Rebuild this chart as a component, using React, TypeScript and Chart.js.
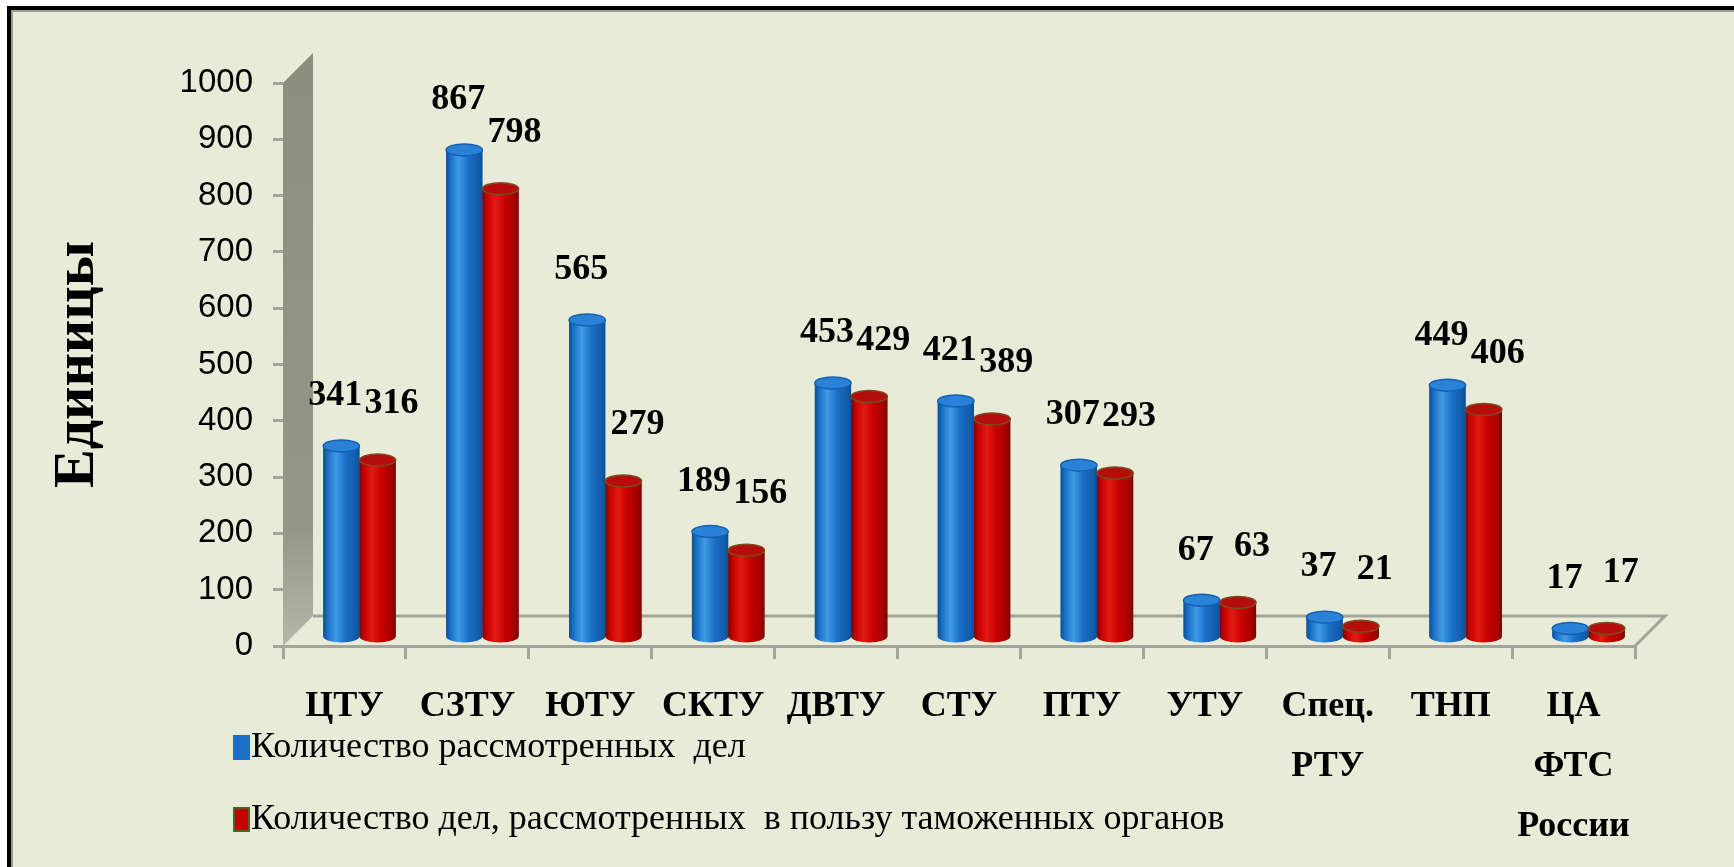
import React, { useEffect, useRef } from "react";
import { Chart, registerables } from "chart.js";

Chart.register(...registerables);

// ---------- data ----------
const categories: string[][] = [
  ["ЦТУ"],
  ["СЗТУ"],
  ["ЮТУ"],
  ["СКТУ"],
  ["ДВТУ"],
  ["СТУ"],
  ["ПТУ"],
  ["УТУ"],
  ["Спец.", "РТУ"],
  ["ТНП"],
  ["ЦА", "ФТС", "России"],
];
const reviewedCases = [341, 867, 565, 189, 453, 421, 307, 67, 37, 449, 17];
const casesInFavor = [316, 798, 279, 156, 429, 389, 293, 63, 21, 406, 17];
const seriesNames = [
  "Количество рассмотренных  дел",
  "Количество дел, рассмотренных  в пользу таможенных органов",
];
const yTickValues = [0, 100, 200, 300, 400, 500, 600, 700, 800, 900, 1000];
const yTitle = "Единицы";

// ---------- styling ----------
const BG = "#e8ebd8";
const AXIS_GRAY = "#a2a59a";
const DEPTH = 30; // 3D depth of wall / floor
const BAR_DX = 15; // bars stand at mid depth
const BAR_DY = 8;
const LABEL_DX = [-6, 14];
const LABEL_DY = [50, 56];

const palettes = [
  {
    solid: "#1a6fc6",
    edge: "#0b4f96",
    main: "#1a6fc6",
    light: "#3f9be6",
    dark: "#135ca9",
    top: "#2a82d8",
    rim: "#1560b0",
  },
  {
    solid: "#c40000",
    edge: "#6e0c06",
    main: "#c60000",
    light: "#e21a14",
    dark: "#a30000",
    top: "#b50c0c",
    rim: "#7d4a1c",
  },
];

function drawCylinder(
  ctx: CanvasRenderingContext2D,
  x: number,
  top: number,
  base: number,
  w: number,
  pal: any
) {
  const l = x - w / 2;
  const r = x + w / 2;
  const eh = Math.min(6, w * 0.18);
  const g = ctx.createLinearGradient(l, 0, r, 0);
  g.addColorStop(0, pal.edge);
  g.addColorStop(0.12, pal.main);
  g.addColorStop(0.35, pal.light);
  g.addColorStop(0.62, pal.main);
  g.addColorStop(0.9, pal.dark);
  g.addColorStop(1, pal.edge);
  ctx.fillStyle = g;
  ctx.beginPath();
  ctx.moveTo(l, top);
  ctx.lineTo(l, base);
  ctx.ellipse(x, base, w / 2, eh, 0, Math.PI, 0, true);
  ctx.lineTo(r, top);
  ctx.closePath();
  ctx.fill();
  // top cap
  ctx.beginPath();
  ctx.ellipse(x, top, w / 2, eh, 0, 0, Math.PI * 2);
  ctx.fillStyle = pal.top;
  ctx.fill();
  ctx.lineWidth = 1.5;
  ctx.strokeStyle = pal.rim;
  ctx.stroke();
}

const scenePlugin = {
  id: "scene3d",
  beforeDatasetsDraw(chart: any) {
    const { ctx, chartArea: a, scales } = chart;
    const y = scales.y;
    const top = y.getPixelForValue(1000);
    const bottom = y.getPixelForValue(0);
    ctx.save();
    // side wall
    const g = ctx.createLinearGradient(0, top - DEPTH, 0, bottom);
    g.addColorStop(0, "#8a907e");
    g.addColorStop(0.8, "#939886");
    g.addColorStop(1, "#b4b7ab");
    ctx.fillStyle = g;
    ctx.beginPath();
    ctx.moveTo(a.left, top);
    ctx.lineTo(a.left + DEPTH, top - DEPTH);
    ctx.lineTo(a.left + DEPTH, bottom - DEPTH);
    ctx.lineTo(a.left, bottom);
    ctx.closePath();
    ctx.fill();
    // floor outline
    ctx.strokeStyle = AXIS_GRAY;
    ctx.lineWidth = 3;
    ctx.beginPath();
    ctx.moveTo(a.left + DEPTH, bottom - DEPTH);
    ctx.lineTo(a.right + DEPTH, bottom - DEPTH);
    ctx.lineTo(a.right, bottom);
    ctx.stroke();
    ctx.restore();
    // bars stand in the middle of the floor depth
    ctx.save();
    ctx.translate(BAR_DX, -BAR_DY);
  },
  afterDatasetsDraw(chart: any) {
    const { ctx } = chart;
    chart.data.datasets.forEach((ds: any, di: number) => {
      const meta = chart.getDatasetMeta(di);
      meta.data.forEach((bar: any) => {
        const p = bar.getProps(["x", "y", "base", "width"], true);
        drawCylinder(ctx, p.x, p.y, p.base, p.width, palettes[di]);
      });
    });
    ctx.fillStyle = "#000";
    ctx.font = "bold 36px 'Liberation Serif', 'Times New Roman', serif";
    ctx.textAlign = "center";
    ctx.textBaseline = "middle";
    chart.data.datasets.forEach((ds: any, di: number) => {
      const meta = chart.getDatasetMeta(di);
      meta.data.forEach((bar: any, j: number) => {
        const p = bar.getProps(["x", "y"], true);
        ctx.fillText(String(ds.data[j]), p.x + LABEL_DX[di], p.y - LABEL_DY[di]);
      });
    });
    ctx.restore();
  },
  afterDraw(chart: any) {
    const { ctx, chartArea: a } = chart;
    ctx.save();
    ctx.font = "36px 'Liberation Serif', 'Times New Roman', serif";
    ctx.textAlign = "left";
    ctx.textBaseline = "middle";
    const rows = [a.bottom + 101, a.bottom + 173];
    chart.data.datasets.forEach((ds: any, di: number) => {
      const cy = rows[di];
      const bx = a.left - 50;
      ctx.fillStyle = palettes[di].solid;
      ctx.fillRect(bx, cy - 12, 17, 25);
      if (di === 1) {
        ctx.strokeStyle = "#5b5a30";
        ctx.lineWidth = 2;
        ctx.strokeRect(bx + 1, cy - 11, 15, 23);
      }
      ctx.fillStyle = "#000";
      ctx.fillText(ds.label, bx + 18, cy + 1);
    });
    ctx.restore();
  },
};

export default function App() {
  const canvasRef = useRef<HTMLCanvasElement | null>(null);

  useEffect(() => {
    const canvas = canvasRef.current;
    if (!canvas) return;
    const chart = new Chart(canvas, {
      type: "bar",
      data: {
        labels: categories,
        datasets: [
          {
            label: seriesNames[0],
            data: reviewedCases,
            backgroundColor: palettes[0].solid,
            borderWidth: 0,
            barPercentage: 1,
            categoryPercentage: 0.59,
          },
          {
            label: seriesNames[1],
            data: casesInFavor,
            backgroundColor: palettes[1].solid,
            borderWidth: 0,
            barPercentage: 1,
            categoryPercentage: 0.59,
          },
        ],
      },
      options: {
        responsive: false,
        animation: false,
        events: [],
        layout: { padding: { left: 0, top: 83, right: 99, bottom: 0 } },
        plugins: {
          legend: { display: false },
          tooltip: { enabled: false },
          title: { display: false },
        },
        scales: {
          x: {
            grid: {
              drawOnChartArea: false,
              tickLength: 13,
              color: AXIS_GRAY,
              lineWidth: 3,
            },
            border: { display: true, color: AXIS_GRAY, width: 3 },
            ticks: {
              color: "#000",
              padding: 18,
              maxRotation: 0,
              autoSkip: false,
              font: {
                family: "'Liberation Serif', 'Times New Roman', serif",
                size: 36,
                weight: "bold",
                lineHeight: 1.667,
              },
            },
            afterFit: (s: any) => {
              s.height = 221;
            },
          },
          y: {
            min: 0,
            max: 1000,
            afterBuildTicks: (s: any) => {
              s.ticks = yTickValues.map((v) => ({ value: v }));
            },
            grid: {
              drawOnChartArea: false,
              tickLength: 10,
              color: AXIS_GRAY,
              lineWidth: 3,
            },
            border: { display: false },
            ticks: {
              color: "#000",
              padding: 20,
              callback: (v: any) => String(v),
              font: {
                family: "'Liberation Sans', Arial, sans-serif",
                size: 33,
              },
            },
            title: {
              display: true,
              text: yTitle,
              color: "#000",
              padding: { top: 43, bottom: 0 },
              font: {
                family: "'Liberation Serif', 'Times New Roman', serif",
                size: 58,
                weight: "bold",
              },
            },
            afterFit: (s: any) => {
              s.width = 283;
            },
          },
        },
      },
      plugins: [scenePlugin],
    });
    return () => chart.destroy();
  }, []);

  return (
    <>
      <div
        style={{
          position: "fixed",
          left: 7,
          top: 6,
          right: -10,
          bottom: -20,
          borderTop: "4px solid #000",
          borderLeft: "4px solid #000",
          boxShadow: "inset 2px 2px 0 #9a9c90",
          background: BG,
        }}
      />
      <canvas
        ref={canvasRef}
        width={1734}
        height={867}
        style={{ position: "fixed", left: 0, top: 0, display: "block" }}
      />
    </>
  );
}
